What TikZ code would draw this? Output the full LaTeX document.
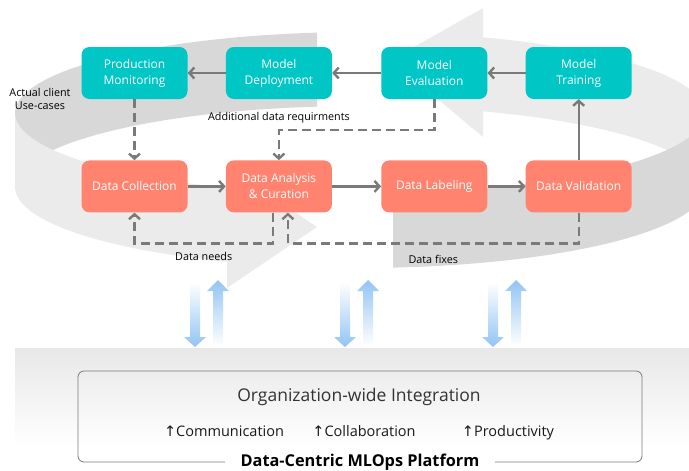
\documentclass[tikz,border=0pt]{standalone}
\usepackage{fontspec}
\setmainfont{Open Sans}
\newfontfamily\arrowfont{DejaVu Sans}
\usetikzlibrary{arrows.meta, positioning}

\definecolor{modelcol}{RGB}{0,198,198}
\definecolor{datacol}{RGB}{255,131,111}
\definecolor{linkgray}{RGB}{122,122,122}
\definecolor{ringdark}{RGB}{216,216,216}
\definecolor{ringlight}{RGB}{235,235,235}
\definecolor{flowblue}{RGB}{146,196,244}
\definecolor{platgray}{RGB}{232,232,232}

\begin{document}
\begin{tikzpicture}[
  x=1pt, y=-1pt,
  stagebox/.style={rectangle, rounded corners=8pt, minimum width=106pt, minimum height=52pt, text=white, align=center, inner sep=2pt, font=\fontsize{12}{16}\selectfont},
  modelbox/.style={stagebox, fill=modelcol},
  databox/.style={stagebox, fill=datacol},
  arrow/.style={-{Straight Barb[length=5pt, width=11pt]}, line width=2.4pt, linkgray},
  dashedarrow/.style={arrow, dash pattern=on 9pt off 5pt},
  notelabel/.style={font=\fontsize{10.8}{13}\selectfont, text=black},
  itemlabel/.style={font=\fontsize{14.5}{16}\selectfont, text=black!90, anchor=base}
]
\useasboundingbox (0,0) rectangle (689,471);

% Ring in the background
\begin{scope}
\clip (0,0) rectangle (689,471);
\fill[ringdark] plot[domain=97.16:180, samples=50] ({360+345*cos(\x)}, {113-81*sin(\x)})
  -- plot[domain=180:97.16, samples=50] ({360+345*cos(\x)}, {187-81*sin(\x)}) -- cycle;
\fill[ringlight] plot[domain=0:69.11, samples=50] ({360+345*cos(\x)}, {113-81*sin(\x)})
  -- plot[domain=69.11:0, samples=50] ({360+345*cos(\x)}, {187-81*sin(\x)}) -- cycle;
\fill[ringlight] (483,8) -- (391,60) -- (483,137) -- cycle;
\fill[ringlight] plot[domain=180:247.32, samples=50] ({360+345*cos(\x)}, {113-81*sin(\x)})
  -- plot[domain=247.32:180, samples=50] ({360+345*cos(\x)}, {187-81*sin(\x)}) -- cycle;
\fill[ringdark] plot[domain=275.49:360, samples=50] ({360+345*cos(\x)}, {113-81*sin(\x)})
  -- plot[domain=360:275.49, samples=50] ({360+345*cos(\x)}, {187-81*sin(\x)}) -- cycle;
\fill[ringlight] (227,166) -- (317,227) -- (227,288) -- cycle;
\end{scope}

% Platform
\shade[top color=platgray, bottom color=white] (15,348) rectangle (689,448);
\node[draw=linkgray, line width=0.8pt, rounded corners=6pt, minimum width=564pt, minimum height=91pt] (platform) at (360,416.5) {};
\node[font=\fontsize{17.5}{20}\selectfont, text=black!80] (orgwide) at (359,397) {Organization-wide Integration};
\node[itemlabel] (comm) at (224,436) {{\arrowfont ↑}Communication};
\node[itemlabel] (collab) at (364,436) {{\arrowfont ↑}Collaboration};
\node[itemlabel] (prod) at (508,436) {{\arrowfont ↑}Productivity};
\node[fill=white, inner xsep=16pt, inner ysep=1pt, font=\bfseries\fontsize{16.3}{18}\selectfont] (title) at (platform.south) {Data-Centric MLOps Platform};

% Exchange arrows
\foreach \bx in {195, 345, 493} {
  \shade[top color=white, middle color=flowblue, bottom color=flowblue]
    (\bx-5,282) -- (\bx+5,282) -- (\bx+5,337) -- (\bx+11,337) -- (\bx,347) -- (\bx-11,337) -- (\bx-5,337) -- cycle;
  \shade[top color=flowblue, middle color=flowblue, bottom color=white]
    (\bx+18,346) -- (\bx+18,291) -- (\bx+12,291) -- (\bx+23,280) -- (\bx+34,291) -- (\bx+28,291) -- (\bx+28,346) -- cycle;
}

% Stages
\node[modelbox] (pm) at (134.5,73) {Production\\Monitoring};
\node[modelbox, right=38pt of pm] (dep) {Model\\Deployment};
\node[modelbox, right=49pt of dep] (eval) {Model\\Evaluation};
\node[modelbox, right=38pt of eval] (train) {Model\\Training};
\node[databox, below=61pt of pm] (dc) {Data Collection};
\node[databox, right=38pt of dc] (da) {Data Analysis\\\& Curation};
\node[databox, right=49pt of da] (lab) {Data Labeling};
\node[databox, right=38pt of lab] (dv) {Data Validation};

\node[notelabel, align=center] (usecase) at (40,99) {Actual client\\Use-cases};

% Flow
\draw[arrow] (dep) -- (pm);
\draw[arrow] (eval) -- (dep);
\draw[arrow] (train) -- (eval);
\draw[arrow] (dc) -- (da);
\draw[arrow] (da) -- (lab);
\draw[arrow] (lab) -- (dv);
\draw[arrow] (dv) -- (train);

% Feedback loops
\draw[dashedarrow] (pm) -- (dc);
\draw[dashedarrow] (eval.south) -- ++(0,31) -| (da.north)
  node[pos=0.5, above=3pt, notelabel] {Additional data requirments};
\draw[dashedarrow] ([xshift=-6pt]da.south) -- ++(0,31) -| (dc.south)
  node[pos=0.25, below=4pt, notelabel] {Data needs};
\draw[dashedarrow] (dv.south) -- ++(0,31) -| ([xshift=9pt]da.south)
  node[pos=0.25, below=7pt, notelabel] {Data fixes};

\end{tikzpicture}
\end{document}
